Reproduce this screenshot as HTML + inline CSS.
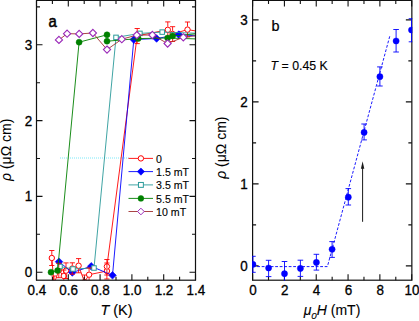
<!DOCTYPE html>
<html><head><meta charset="utf-8"><style>
html,body{margin:0;padding:0;background:#fff;}
body{width:419px;height:321px;overflow:hidden;}
svg{display:block;font-family:"Liberation Sans",sans-serif;fill:#000;}
text{fill:#000;stroke:#000;stroke-width:0.3px;}
</style></head><body>
<svg width="419" height="321" viewBox="0 0 419 321">
<defs><clipPath id="ca"><rect x="36.5" y="0" width="159" height="280.2"/></clipPath><clipPath id="cb"><rect x="252.0" y="0" width="160.3" height="280.8"/></clipPath></defs>
<rect width="419" height="321" fill="#fff"/>
<g clip-path="url(#ca)">
<path d="M60 158H129" stroke="#7ce9f8" stroke-width="1" stroke-dasharray="1 1" fill="none"/>
<polyline points="51.8,258 54,284 58.8,270.5 63.8,276 66,270.7 72.3,268.5 78.6,265.7 84.5,282 89.1,274.7 106.9,271 106.9,266.5 137.2,35.8 167.8,29.8 172.6,34 187.5,29.6 205,32.5" fill="none" stroke="#ff0000" stroke-width="0.9" stroke-linejoin="round" />
<circle cx="51.8" cy="258" r="2.7" fill="#fff" stroke="#ff0000" stroke-width="1.0"/>
<circle cx="54" cy="284" r="2.7" fill="#fff" stroke="#ff0000" stroke-width="1.0"/>
<circle cx="58.8" cy="270.5" r="2.7" fill="#fff" stroke="#ff0000" stroke-width="1.0"/>
<circle cx="63.8" cy="276" r="2.7" fill="#fff" stroke="#ff0000" stroke-width="1.0"/>
<circle cx="66" cy="270.7" r="2.7" fill="#fff" stroke="#ff0000" stroke-width="1.0"/>
<circle cx="72.3" cy="268.5" r="2.7" fill="#fff" stroke="#ff0000" stroke-width="1.0"/>
<circle cx="78.6" cy="265.7" r="2.7" fill="#fff" stroke="#ff0000" stroke-width="1.0"/>
<circle cx="84.5" cy="282" r="2.7" fill="#fff" stroke="#ff0000" stroke-width="1.0"/>
<circle cx="89.1" cy="274.7" r="2.7" fill="#fff" stroke="#ff0000" stroke-width="1.0"/>
<circle cx="106.9" cy="271" r="2.7" fill="#fff" stroke="#ff0000" stroke-width="1.0"/>
<circle cx="106.9" cy="266.5" r="2.7" fill="#fff" stroke="#ff0000" stroke-width="1.0"/>
<circle cx="137.2" cy="35.8" r="2.7" fill="#fff" stroke="#ff0000" stroke-width="1.0"/>
<circle cx="167.8" cy="29.8" r="2.7" fill="#fff" stroke="#ff0000" stroke-width="1.0"/>
<circle cx="172.6" cy="34" r="2.7" fill="#fff" stroke="#ff0000" stroke-width="1.0"/>
<circle cx="187.5" cy="29.6" r="2.7" fill="#fff" stroke="#ff0000" stroke-width="1.0"/>
<polyline points="59,261.7 72.3,272.5 91.2,266.3 112.5,275.3 133.8,39.6 156.6,38.5 178.8,34.6 205,36.5" fill="none" stroke="#0000ff" stroke-width="0.9" stroke-linejoin="round" />
<path d="M59 257.9L62.8 261.7L59 265.5L55.2 261.7Z" fill="#0000ff" stroke="#0000ff" stroke-width="0.6"/>
<path d="M72.3 268.7L76.1 272.5L72.3 276.3L68.5 272.5Z" fill="#0000ff" stroke="#0000ff" stroke-width="0.6"/>
<path d="M91.2 262.5L95 266.3L91.2 270.1L87.4 266.3Z" fill="#0000ff" stroke="#0000ff" stroke-width="0.6"/>
<path d="M112.5 271.5L116.3 275.3L112.5 279.1L108.7 275.3Z" fill="#0000ff" stroke="#0000ff" stroke-width="0.6"/>
<path d="M133.8 35.8L137.6 39.6L133.8 43.4L130 39.6Z" fill="#0000ff" stroke="#0000ff" stroke-width="0.6"/>
<path d="M156.6 34.7L160.4 38.5L156.6 42.3L152.8 38.5Z" fill="#0000ff" stroke="#0000ff" stroke-width="0.6"/>
<path d="M178.8 30.8L182.6 34.6L178.8 38.4L175 34.6Z" fill="#0000ff" stroke="#0000ff" stroke-width="0.6"/>
<polyline points="60,266.5 73,269 94,268 116,37.4 139.9,33.4 162.2,32.1 205,33.5" fill="none" stroke="#2a9a9a" stroke-width="0.9" stroke-linejoin="round" />
<rect x="57.75" y="264.25" width="4.5" height="4.5" fill="#fff" stroke="#2a9a9a" stroke-width="1.0"/>
<rect x="70.75" y="266.75" width="4.5" height="4.5" fill="#fff" stroke="#2a9a9a" stroke-width="1.0"/>
<rect x="91.75" y="265.75" width="4.5" height="4.5" fill="#fff" stroke="#2a9a9a" stroke-width="1.0"/>
<rect x="113.75" y="35.15" width="4.5" height="4.5" fill="#fff" stroke="#2a9a9a" stroke-width="1.0"/>
<rect x="137.65" y="31.15" width="4.5" height="4.5" fill="#fff" stroke="#2a9a9a" stroke-width="1.0"/>
<rect x="159.95" y="29.85" width="4.5" height="4.5" fill="#fff" stroke="#2a9a9a" stroke-width="1.0"/>
<path d="M51.8 250.5V254.9M51.8 261.1V265.5M49.2 250.5h5.2M49.2 265.5h5.2" stroke="#ff0000" stroke-width="0.9" fill="none"/>
<path d="M54 276V280.9M54 287.1V292M51.4 276h5.2M51.4 292h5.2" stroke="#ff0000" stroke-width="0.9" fill="none"/>
<path d="M58.8 263.3V267.4M58.8 273.6V277.7M56.2 263.3h5.2M56.2 277.7h5.2" stroke="#ff0000" stroke-width="0.9" fill="none"/>
<path d="M63.8 270V272.9M63.8 279.1V282M61.2 270h5.2M61.2 282h5.2" stroke="#ff0000" stroke-width="0.9" fill="none"/>
<path d="M66 262.9V267.6M66 273.8V278.5M63.4 262.9h5.2M63.4 278.5h5.2" stroke="#ff0000" stroke-width="0.9" fill="none"/>
<path d="M72.3 262.8V265.4M72.3 271.6V274.2M69.7 262.8h5.2M69.7 274.2h5.2" stroke="#ff0000" stroke-width="0.9" fill="none"/>
<path d="M78.6 258.6V262.6M78.6 268.8V272.8M76 258.6h5.2M76 272.8h5.2" stroke="#ff0000" stroke-width="0.9" fill="none"/>
<path d="M84.5 275V278.9M84.5 285.1V289M81.9 275h5.2M81.9 289h5.2" stroke="#ff0000" stroke-width="0.9" fill="none"/>
<path d="M89.1 268V271.6M89.1 277.8V281M86.5 268h5.2M86.5 281h5.2" stroke="#ff0000" stroke-width="0.9" fill="none"/>
<path d="M106.9 263V267.9M106.9 274.1V279M104.3 263h5.2M104.3 279h5.2" stroke="#ff0000" stroke-width="0.9" fill="none"/>
<path d="M106.9 259.5V263.4M106.9 269.6V275M104.3 259.5h5.2M104.3 275h5.2" stroke="#ff0000" stroke-width="0.9" fill="none"/>
<path d="M137.2 28.5V32.7M137.2 38.9V43.6M134.6 28.5h5.2M134.6 43.6h5.2" stroke="#ff0000" stroke-width="0.9" fill="none"/>
<path d="M167.8 21.9V26.7M167.8 32.9V37.6M165.2 21.9h5.2M165.2 37.6h5.2" stroke="#ff0000" stroke-width="0.9" fill="none"/>
<path d="M172.6 26.7V30.9M172.6 37.1V41.5M170 26.7h5.2M170 41.5h5.2" stroke="#ff0000" stroke-width="0.9" fill="none"/>
<path d="M187.5 22V26.5M187.5 32.7V36.9M184.9 22h5.2M184.9 36.9h5.2" stroke="#ff0000" stroke-width="0.9" fill="none"/>
<polyline points="51,272.2 57.6,270.6 79.1,42.2 107,34.8 107,41.2 138.2,38.6 167.6,38 172.6,36 205,33" fill="none" stroke="#008000" stroke-width="0.9" stroke-linejoin="round" />
<polyline points="167.6,38 205,39.2" fill="none" stroke="#008000" stroke-width="0.9" stroke-linejoin="round" />
<circle cx="51" cy="272.2" r="3" fill="#008000" stroke="#008000" stroke-width="0.5"/>
<circle cx="57.6" cy="270.6" r="3" fill="#008000" stroke="#008000" stroke-width="0.5"/>
<circle cx="79.1" cy="42.2" r="3" fill="#008000" stroke="#008000" stroke-width="0.5"/>
<circle cx="107" cy="34.8" r="3" fill="#008000" stroke="#008000" stroke-width="0.5"/>
<circle cx="107" cy="41.2" r="3" fill="#008000" stroke="#008000" stroke-width="0.5"/>
<circle cx="138.2" cy="38.6" r="3" fill="#008000" stroke="#008000" stroke-width="0.5"/>
<circle cx="167.6" cy="38" r="3" fill="#008000" stroke="#008000" stroke-width="0.5"/>
<circle cx="172.6" cy="36" r="3" fill="#008000" stroke="#008000" stroke-width="0.5"/>
<polyline points="58.95,39.9 67.1,33.7 79.2,33.9 92.9,33 107,49.6 121.8,39.2 136.8,35.1 152.4,35 167.6,43.5 183.3,37.3 205,34.5" fill="none" stroke="#a03030" stroke-width="0.9" stroke-linejoin="round" />
<path d="M58.95 36.3L62.55 39.9L58.95 43.5L55.35 39.9Z" fill="#fff" stroke="#9a28b8" stroke-width="1.1"/>
<path d="M67.1 30.1L70.7 33.7L67.1 37.3L63.5 33.7Z" fill="#fff" stroke="#9a28b8" stroke-width="1.1"/>
<path d="M79.2 30.3L82.8 33.9L79.2 37.5L75.6 33.9Z" fill="#fff" stroke="#9a28b8" stroke-width="1.1"/>
<path d="M92.9 29.4L96.5 33L92.9 36.6L89.3 33Z" fill="#fff" stroke="#9a28b8" stroke-width="1.1"/>
<path d="M107 46L110.6 49.6L107 53.2L103.4 49.6Z" fill="#fff" stroke="#9a28b8" stroke-width="1.1"/>
<path d="M121.8 35.6L125.4 39.2L121.8 42.8L118.2 39.2Z" fill="#fff" stroke="#9a28b8" stroke-width="1.1"/>
<path d="M136.8 31.5L140.4 35.1L136.8 38.7L133.2 35.1Z" fill="#fff" stroke="#9a28b8" stroke-width="1.1"/>
<path d="M152.4 31.4L156 35L152.4 38.6L148.8 35Z" fill="#fff" stroke="#9a28b8" stroke-width="1.1"/>
<path d="M167.6 39.9L171.2 43.5L167.6 47.1L164 43.5Z" fill="#fff" stroke="#9a28b8" stroke-width="1.1"/>
<path d="M183.3 33.7L186.9 37.3L183.3 40.9L179.7 37.3Z" fill="#fff" stroke="#9a28b8" stroke-width="1.1"/>
</g>
<path d="M128.5 158.4H153.0" stroke="#ff0000" stroke-width="0.9"/>
<circle cx="140.9" cy="158.4" r="2.7" fill="#fff" stroke="#ff0000" stroke-width="1.0"/>
<text x="156.1" y="162.5" font-size="10.6" style="stroke-width:0.12px">0</text>
<path d="M128.5 171.6H153.0" stroke="#0000ff" stroke-width="0.9"/>
<path d="M140.9 168L144.5 171.6L140.9 175.2L137.3 171.6Z" fill="#0000ff" stroke="#0000ff" stroke-width="0.6"/>
<text x="156.1" y="175.7" font-size="10.6" style="stroke-width:0.12px">1.5 mT</text>
<path d="M128.5 184.9H153.0" stroke="#2a9a9a" stroke-width="0.9"/>
<rect x="138.45" y="182.45" width="4.9" height="4.9" fill="#fff" stroke="#2a9a9a" stroke-width="1.0"/>
<text x="156.1" y="189" font-size="10.6" style="stroke-width:0.12px">3.5 mT</text>
<path d="M128.5 198.4H153.0" stroke="#008000" stroke-width="0.9"/>
<circle cx="140.9" cy="198.4" r="2.9" fill="#008000" stroke="#008000" stroke-width="0.5"/>
<text x="156.1" y="202.5" font-size="10.6" style="stroke-width:0.12px">5.5 mT</text>
<path d="M128.5 211.5H153.0" stroke="#a03030" stroke-width="0.9"/>
<path d="M140.9 208.2L144.2 211.5L140.9 214.8L137.6 211.5Z" fill="#fff" stroke="#9a28b8" stroke-width="1.0"/>
<text x="156.1" y="215.6" font-size="10.6" style="stroke-width:0.12px">10 mT</text>
<path d="M36.5 280.2v-6M36.5 0.4v6M68.3 280.2v-6M68.3 0.4v6M100.1 280.2v-6M100.1 0.4v6M131.9 280.2v-6M131.9 0.4v6M163.7 280.2v-6M163.7 0.4v6M195.5 280.2v-6M195.5 0.4v6M52.4 280.2v-3.5M52.4 0.4v3.5M84.2 280.2v-3.5M84.2 0.4v3.5M116 280.2v-3.5M116 0.4v3.5M147.8 280.2v-3.5M147.8 0.4v3.5M179.6 280.2v-3.5M179.6 0.4v3.5M36.5 272.2h6M195.5 272.2h-6M36.5 196.4h6M195.5 196.4h-6M36.5 120.6h6M195.5 120.6h-6M36.5 44.8h6M195.5 44.8h-6M36.5 234.3h3.5M195.5 234.3h-3.5M36.5 158.5h3.5M195.5 158.5h-3.5M36.5 82.7h3.5M195.5 82.7h-3.5M36.5 6.9h3.5M195.5 6.9h-3.5" stroke="#111" stroke-width="1.1" fill="none"/>
<rect x="36.5" y="0.4" width="159" height="279.8" fill="none" stroke="#111" stroke-width="1.2"/>
<text transform="translate(36.8,295.2) scale(0.96,1)" font-size="14" text-anchor="middle">0.4</text>
<text transform="translate(68.6,295.2) scale(0.96,1)" font-size="14" text-anchor="middle">0.6</text>
<text transform="translate(100.4,295.2) scale(0.96,1)" font-size="14" text-anchor="middle">0.8</text>
<text transform="translate(132.2,295.2) scale(0.96,1)" font-size="14" text-anchor="middle">1.0</text>
<text transform="translate(164,295.2) scale(0.96,1)" font-size="14" text-anchor="middle">1.2</text>
<text transform="translate(195.8,295.2) scale(0.96,1)" font-size="14" text-anchor="middle">1.4</text>
<text transform="translate(32.3,277.1) scale(0.96,1)" font-size="14" text-anchor="end">0</text>
<text transform="translate(32.3,201.3) scale(0.96,1)" font-size="14" text-anchor="end">1</text>
<text transform="translate(32.3,125.5) scale(0.96,1)" font-size="14" text-anchor="end">2</text>
<text transform="translate(32.3,49.7) scale(0.96,1)" font-size="14" text-anchor="end">3</text>
<text transform="translate(48.6,26.8) scale(0.93,1)" font-size="16" style="stroke-width:0.55px">a</text>
<text x="116.5" y="314.8" font-size="14.4" text-anchor="middle" style="stroke-width:0.15px"><tspan font-style="italic">T</tspan> (K)</text>
<text transform="translate(10.7,149.8) rotate(-90)" font-size="14" text-anchor="middle" style="stroke-width:0.05px"><tspan font-style="italic">ρ</tspan> (μΩ cm)</text>
<path d="M252.6 280.2v-6M252.6 0.4v6M284.42 280.2v-6M284.42 0.4v6M316.24 280.2v-6M316.24 0.4v6M348.06 280.2v-6M348.06 0.4v6M379.88 280.2v-6M379.88 0.4v6M411.7 280.2v-6M411.7 0.4v6M268.51 280.2v-3.5M268.51 0.4v3.5M300.33 280.2v-3.5M300.33 0.4v3.5M332.15 280.2v-3.5M332.15 0.4v3.5M363.97 280.2v-3.5M363.97 0.4v3.5M395.79 280.2v-3.5M395.79 0.4v3.5M252.6 265.9h6M411.85 265.9h-6M252.6 183.9h6M411.85 183.9h-6M252.6 101.9h6M411.85 101.9h-6M252.6 19.9h6M411.85 19.9h-6M252.6 224.9h3.5M411.85 224.9h-3.5M252.6 142.9h3.5M411.85 142.9h-3.5M252.6 60.9h3.5M411.85 60.9h-3.5" stroke="#111" stroke-width="1.1" fill="none"/>
<rect x="252.6" y="0.4" width="159.25" height="279.8" fill="none" stroke="#111" stroke-width="1.2"/>
<g clip-path="url(#cb)">
<polyline points="252.7,266.6 327.4,266.6 389.9,35.7" fill="none" stroke="#0000ff" stroke-width="0.9" stroke-dasharray="2.8 1.7"/>
<path d="M252.9 256.3V272.3M250.1 256.3h5.6M250.1 272.3h5.6" stroke="#0000ff" stroke-width="0.9" fill="none"/>
<path d="M268.6 260.3V276.6M265.8 260.3h5.6M265.8 276.6h5.6" stroke="#0000ff" stroke-width="0.9" fill="none"/>
<path d="M284.5 261.5V286M281.7 261.5h5.6M281.7 286h5.6" stroke="#0000ff" stroke-width="0.9" fill="none"/>
<path d="M300.4 260.2V276.4M297.6 260.2h5.6M297.6 276.4h5.6" stroke="#0000ff" stroke-width="0.9" fill="none"/>
<path d="M316.4 254.3V270.1M313.6 254.3h5.6M313.6 270.1h5.6" stroke="#0000ff" stroke-width="0.9" fill="none"/>
<path d="M332.1 241.6V257.4M329.3 241.6h5.6M329.3 257.4h5.6" stroke="#0000ff" stroke-width="0.9" fill="none"/>
<path d="M348.3 188.6V205M345.5 188.6h5.6M345.5 205h5.6" stroke="#0000ff" stroke-width="0.9" fill="none"/>
<path d="M364.1 124V139.9M361.3 124h5.6M361.3 139.9h5.6" stroke="#0000ff" stroke-width="0.9" fill="none"/>
<path d="M379.9 66.9V86M377.1 66.9h5.6M377.1 86h5.6" stroke="#0000ff" stroke-width="0.9" fill="none"/>
<path d="M396.1 29.5V52M393.3 29.5h5.6M393.3 52h5.6" stroke="#0000ff" stroke-width="0.9" fill="none"/>
<path d="M411.5 18.7V41.8M408.7 18.7h5.6M408.7 41.8h5.6" stroke="#0000ff" stroke-width="0.9" fill="none"/>
<circle cx="252.9" cy="264.3" r="3.1" fill="#0000ff" stroke="#0000ff" stroke-width="0.4"/>
<circle cx="268.6" cy="268" r="3.1" fill="#0000ff" stroke="#0000ff" stroke-width="0.4"/>
<circle cx="284.5" cy="273.7" r="3.1" fill="#0000ff" stroke="#0000ff" stroke-width="0.4"/>
<circle cx="300.4" cy="268.4" r="3.1" fill="#0000ff" stroke="#0000ff" stroke-width="0.4"/>
<circle cx="316.4" cy="262.4" r="3.1" fill="#0000ff" stroke="#0000ff" stroke-width="0.4"/>
<circle cx="332.1" cy="249.3" r="3.1" fill="#0000ff" stroke="#0000ff" stroke-width="0.4"/>
<circle cx="348.3" cy="197.2" r="3.1" fill="#0000ff" stroke="#0000ff" stroke-width="0.4"/>
<circle cx="364.1" cy="132.4" r="3.1" fill="#0000ff" stroke="#0000ff" stroke-width="0.4"/>
<circle cx="379.9" cy="76.7" r="3.1" fill="#0000ff" stroke="#0000ff" stroke-width="0.4"/>
<circle cx="396.1" cy="41" r="3.1" fill="#0000ff" stroke="#0000ff" stroke-width="0.4"/>
<circle cx="411.5" cy="30" r="3.1" fill="#0000ff" stroke="#0000ff" stroke-width="0.4"/>
</g>
<path d="M362.6 221.8V167" stroke="#1a1a1a" stroke-width="1"/>
<path d="M362.6 161.2L364.3 168.8L360.9 168.8Z" fill="#1a1a1a"/>
<text transform="translate(252.9,294.8) scale(0.96,1)" font-size="14" text-anchor="middle">0</text>
<text transform="translate(284.72,294.8) scale(0.96,1)" font-size="14" text-anchor="middle">2</text>
<text transform="translate(316.54,294.8) scale(0.96,1)" font-size="14" text-anchor="middle">4</text>
<text transform="translate(348.36,294.8) scale(0.96,1)" font-size="14" text-anchor="middle">6</text>
<text transform="translate(380.18,294.8) scale(0.96,1)" font-size="14" text-anchor="middle">8</text>
<text transform="translate(412,294.8) scale(0.96,1)" font-size="14" text-anchor="middle">10</text>
<text transform="translate(247.7,270.8) scale(0.96,1)" font-size="14" text-anchor="end">0</text>
<text transform="translate(247.7,188.8) scale(0.96,1)" font-size="14" text-anchor="end">1</text>
<text transform="translate(247.7,106.8) scale(0.96,1)" font-size="14" text-anchor="end">2</text>
<text transform="translate(247.7,24.8) scale(0.96,1)" font-size="14" text-anchor="end">3</text>
<text transform="translate(271.6,30.9) scale(0.93,1)" font-size="15.5" style="stroke-width:0.25px">b</text>
<text transform="translate(270.6,70.3) scale(0.935,1)" font-size="13.2" style="stroke-width:0.15px"><tspan font-style="italic">T</tspan> = 0.45 K</text>
<text x="332" y="315" font-size="14" text-anchor="middle" style="stroke-width:0.1px"><tspan font-style="italic">μ<tspan font-size="9.8" dy="3.9">0</tspan><tspan dy="-3.9">H</tspan></tspan> (mT)</text>
<text transform="translate(226.4,147.7) rotate(-90)" font-size="14" text-anchor="middle" style="stroke-width:0.05px"><tspan font-style="italic">ρ</tspan> (μΩ cm)</text>
</svg>
</body></html>
